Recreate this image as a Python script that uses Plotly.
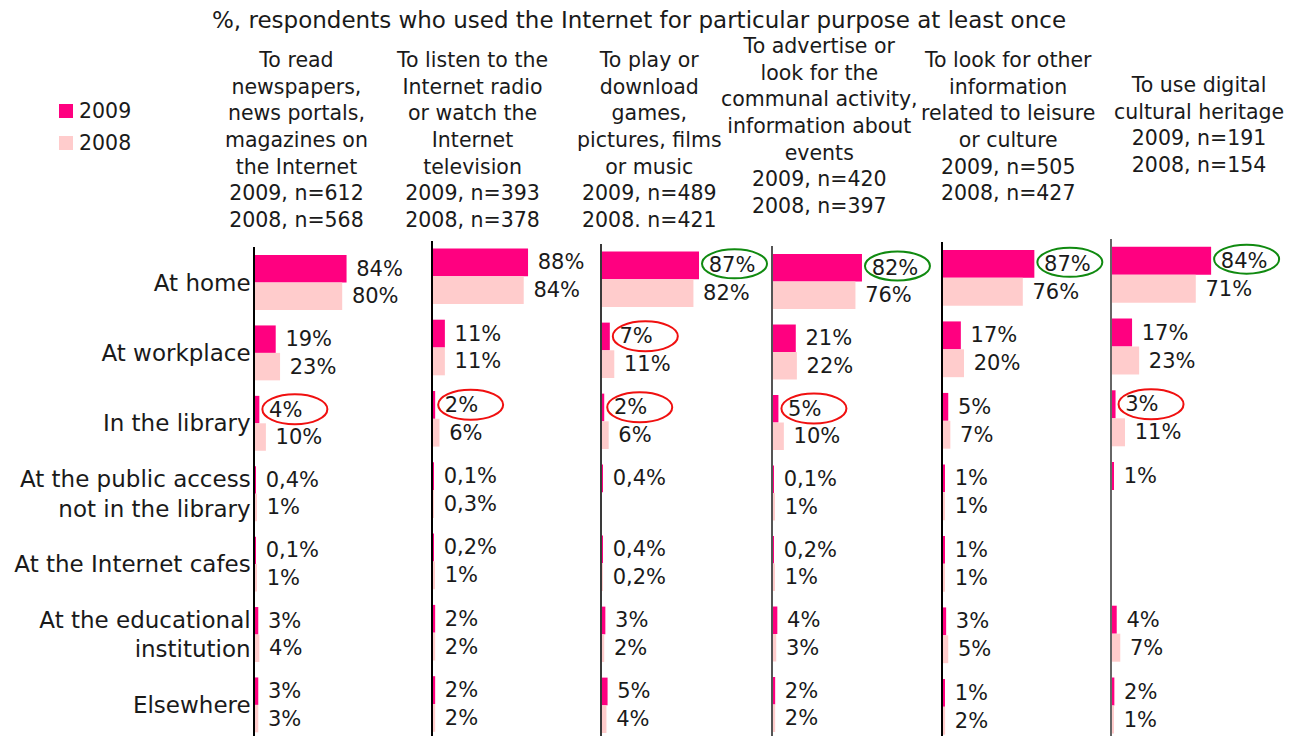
import plotly.graph_objects as go

# Row categories (where the Internet was used)
categories = [
    "At home",
    "At workplace",
    "In the library",
    "At the public access<br>not in the library",
    "At the Internet cafes",
    "At the educational<br>institution",
    "Elsewhere",
]

# Purposes (panel headers) and sample sizes
purposes = [
    "To read<br>newspapers,<br>news portals,<br>magazines on<br>the Internet",
    "To listen to the<br>Internet radio<br>or watch the<br>Internet<br>television",
    "To play or<br>download<br>games,<br>pictures, films<br>or music",
    "To advertise or<br>look for the<br>communal activity,<br>information about<br>events",
    "To look for other<br>information<br>related to leisure<br>or culture",
    "To use digital<br>cultural heritage",
]
sample_sizes = [
    "2009, n=612<br>2008, n=568",
    "2009, n=393<br>2008, n=378",
    "2009, n=489<br>2008. n=421",
    "2009, n=420<br>2008, n=397",
    "2009, n=505<br>2008, n=427",
    "2009, n=191<br>2008, n=154",
]

# Shares of respondents, %, per purpose (None = no answer reported)
news_2009 = [84, 19, 4, 0.4, 0.1, 3, 3]
news_2008 = [80, 23, 10, 1, 1, 4, 3]
radio_2009 = [88, 11, 2, 0.1, 0.2, 2, 2]
radio_2008 = [84, 11, 6, 0.3, 1, 2, 2]
games_2009 = [87, 7, 2, 0.4, 0.4, 3, 5]
games_2008 = [82, 11, 6, None, 0.2, 2, 4]
events_2009 = [82, 21, 5, 0.1, 0.2, 4, 2]
events_2008 = [76, 22, 10, 1, 1, 3, 2]
leisure_2009 = [87, 17, 5, 1, 1, 3, 1]
leisure_2008 = [76, 20, 7, 1, 1, 5, 2]
heritage_2009 = [84, 17, 3, 1, None, 4, 2]
heritage_2008 = [71, 23, 11, None, None, 7, 1]

series_2009 = [news_2009, radio_2009, games_2009, events_2009, leisure_2009, heritage_2009]
series_2008 = [news_2008, radio_2008, games_2008, events_2008, leisure_2008, heritage_2008]

# Highlighted 2009 labels: (panel, row)
green_marks = [(2, 0), (3, 0), (4, 0), (5, 0)]
red_marks = [(0, 2), (1, 2), (2, 1), (2, 2), (3, 2), (5, 2)]

# Styling / geometry
W, H = 1300, 736
C2009 = "#FF0080"
C2008 = "#FFCCCC"
TEXT = "#1a1a1a"
FONT = "DejaVu Sans"
axis_px = [255, 433, 602, 773, 943, 1112]
panel_end_px = [431, 600, 771, 941, 1110, 1298]
px_per_pct = [1.09, 1.08, 1.115, 1.085, 1.05, 1.18]
first_row_px = [282.5, 276.2, 279.3, 281.5, 277.8, 274.7]
row_step_px = [70.4, 71.3, 71.0, 70.5, 71.5, 71.8]
axis_colors = ["#000000", "#000000", "#3a3a3a", "#555555", "#000000", "#666666"]
header_x_px = [296.5, 472, 649, 819, 1008, 1199]
header_y_px = [140, 140, 140, 126, 126.5, 125.5]


def pct(v):
    if v is None:
        return ""
    return "\u00a0" + f"{v:g}".replace(".", ",") + "%"


rows = list(range(len(categories)))
fig = go.Figure()
layout = {}
shapes = []

for i in range(6):
    sfx = "" if i == 0 else str(i + 1)
    xa, ya = "x" + sfx, "y" + sfx
    for vals, color in ((series_2009[i], C2009), (series_2008[i], C2008)):
        fig.add_trace(go.Bar(
            x=vals, y=rows, orientation="h",
            xaxis=xa, yaxis=ya,
            marker=dict(color=color, line=dict(width=0)),
            text=[pct(v) for v in vals],
            textposition="outside",
            textfont=dict(family=FONT, size=21, color=TEXT),
            constraintext="none",
            cliponaxis=False,
            showlegend=False,
            hoverinfo="skip",
        ))

    width_px = panel_end_px[i] - axis_px[i]
    x0 = axis_px[i] / W
    x1 = panel_end_px[i] / W
    top = first_row_px[i] - row_step_px[i] / 2
    bottom_val = (H - top) / row_step_px[i] - 0.5
    layout["xaxis" + sfx] = dict(
        domain=[x0, x1], range=[0, width_px / px_per_pct[i]], anchor=ya,
        showgrid=False, zeroline=False, showticklabels=False, showline=False,
        fixedrange=True,
    )
    layout["yaxis" + sfx] = dict(
        domain=[0, 1 - top / H], range=[bottom_val, -0.5], anchor=xa,
        showgrid=False, zeroline=False,
        showline=True, linecolor=axis_colors[i], linewidth=1.5,
        tickmode="array", tickvals=rows,
        ticktext=categories if i == 0 else [""] * len(rows),
        showticklabels=(i == 0), ticks="",
        tickfont=dict(family=FONT, size=23, color=TEXT),
        ticklabelstandoff=-2,
        fixedrange=True,
    )

# Highlight ellipses around selected 2009 labels
for marks, color, (y0, y1) in ((green_marks, "#108A10", (1, 30)),
                                (red_marks, "#F01010", (-1, 29))):
    for p, r in marks:
        sfx = "" if p == 0 else str(p + 1)
        shapes.append(dict(
            type="circle", xref="x" + sfx, yref="y" + sfx,
            xsizemode="pixel", ysizemode="pixel",
            xanchor=series_2009[p][r], yanchor=r,
            x0=3, x1=68, y0=y0, y1=y1,
            line=dict(color=color, width=2), layer="above",
        ))

# Legend squares
legend_items = [("2009", C2009, 111), ("2008", C2008, 143)]
annotations = []
for label, color, yc in legend_items:
    shapes.append(dict(
        type="rect", xref="paper", yref="paper",
        x0=59 / W, x1=73 / W, y0=1 - (yc + 7) / H, y1=1 - (yc - 7) / H,
        fillcolor=color, line=dict(width=0),
    ))
    annotations.append(dict(
        text=label, x=77 / W, y=1 - yc / H, xref="paper", yref="paper",
        xanchor="left", yanchor="middle", showarrow=False,
        font=dict(family=FONT, size=20.5, color=TEXT),
    ))

# Panel headers
for i in range(6):
    annotations.append(dict(
        text=purposes[i] + "<br>" + sample_sizes[i],
        x=header_x_px[i] / W, y=1 - header_y_px[i] / H,
        xref="paper", yref="paper", xanchor="center", yanchor="middle",
        align="center", showarrow=False,
        font=dict(family=FONT, size=20.5, color=TEXT),
    ))

# Overall title
annotations.append(dict(
    text="%, respondents who used the Internet for particular purpose at least once",
    x=639 / W, y=1 - 20 / H, xref="paper", yref="paper",
    xanchor="center", yanchor="middle", showarrow=False,
    font=dict(family=FONT, size=23, color=TEXT),
))

fig.update_layout(
    width=W, height=H,
    margin=dict(l=0, r=0, t=0, b=0),
    paper_bgcolor="white", plot_bgcolor="white",
    barmode="group", bargap=0.22, bargroupgap=0,
    showlegend=False,
    shapes=shapes, annotations=annotations,
    font=dict(family=FONT, color=TEXT),
    **layout,
)

fig.write_html("out.html")
